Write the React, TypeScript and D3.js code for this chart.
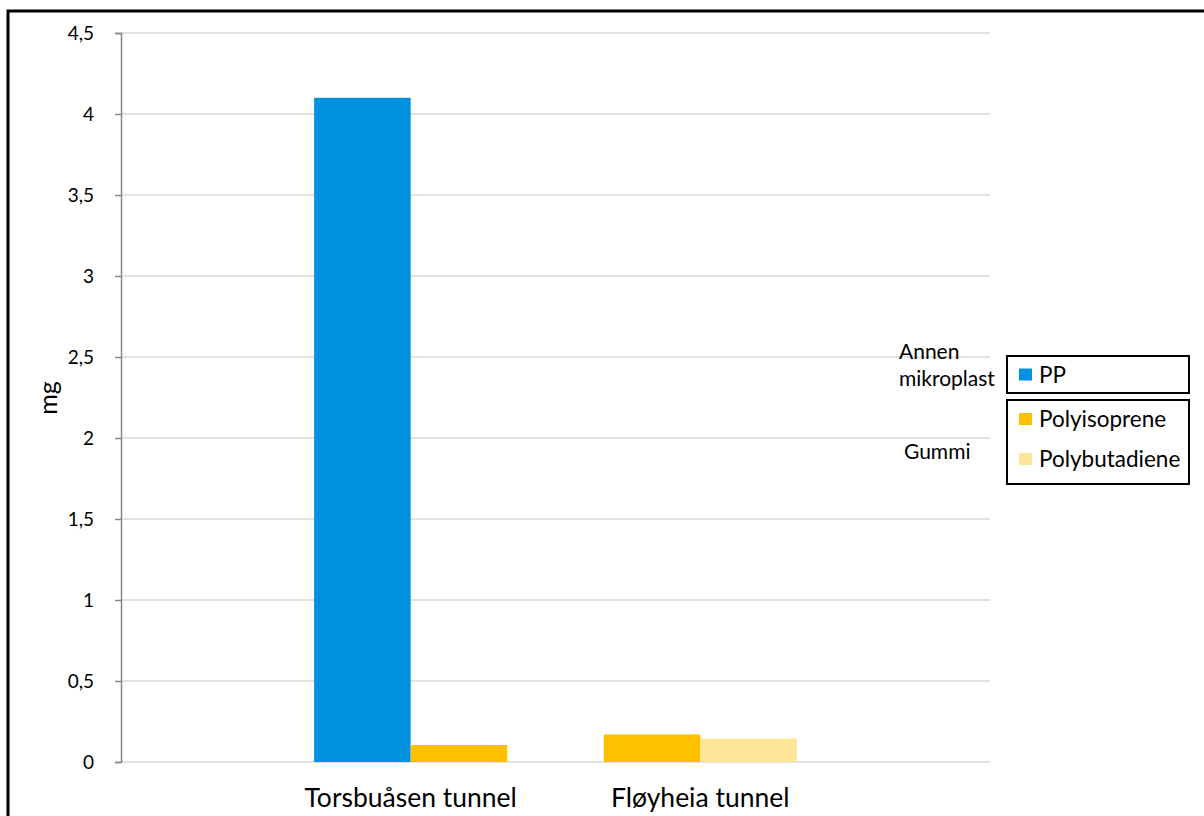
import React, { useEffect, useRef } from 'react';
import * as d3 from 'd3';

const categories = ['Torsbuåsen tunnel', 'Fløyheia tunnel'];
const seriesNames = ['PP', 'Polyisoprene', 'Polybutadiene'];
const seriesColors = ['#0091e1', '#ffc000', '#ffe599'];

// value per category per series (null = no bar)
const ppValues = [4.1, null];
const polyisopreneValues = [0.105, 0.17];
const polybutadieneValues = [null, 0.145];

const yTicks = [0, 0.5, 1, 1.5, 2, 2.5, 3, 3.5, 4, 4.5];

const legendGroups = [
  { title: ['Annen', 'mikroplast'], items: [0] },
  { title: ['Gummi'], items: [1, 2] },
];

const W = 1204;
const H = 816;
const FONT = 'Lato, "Open Sans", sans-serif';

const App: React.FC = () => {
  const svgRef = useRef<SVGSVGElement>(null);

  useEffect(() => {
    if (!svgRef.current) return;
    const svg = d3.select(svgRef.current).html('');

    const plot = { left: 121, right: 990, top: 33, bottom: 762 };

    // frame (top and left edges only)
    svg.append('path')
      .attr('d', `M8,${H} L8,11 L${W},11`)
      .attr('fill', 'none')
      .attr('stroke', '#000')
      .attr('stroke-width', 3);

    const y = d3.scaleLinear().domain([0, 4.5]).range([plot.bottom, plot.top]);
    const x = d3.scalePoint<string>().domain(categories).range([plot.left, plot.right]).padding(1);
    const barW = x.step() / 3;

    // gridlines
    svg.append('g')
      .selectAll('line')
      .data(yTicks)
      .join('line')
      .attr('x1', plot.left)
      .attr('x2', plot.right)
      .attr('y1', d => y(d))
      .attr('y2', d => y(d))
      .attr('stroke', '#d9d9d9')
      .attr('stroke-width', 1.5);

    // y axis
    const yAxis = d3.axisLeft(y)
      .tickValues(yTicks)
      .tickSize(6)
      .tickPadding(21)
      .tickFormat(d => String(d).replace('.', ','));
    const ya = svg.append('g')
      .attr('transform', `translate(${plot.left},0)`)
      .call(yAxis);
    ya.select('.domain').attr('stroke', '#868686').attr('stroke-width', 1.5);
    ya.selectAll('.tick line').attr('stroke', '#868686').attr('stroke-width', 1.5);
    ya.selectAll('.tick text')
      .attr('font-family', FONT)
      .attr('font-size', 19)
      .attr('fill', '#000');

    svg.append('text')
      .attr('transform', `translate(57,398) rotate(-90)`)
      .attr('text-anchor', 'middle')
      .attr('font-family', FONT)
      .attr('font-size', 25)
      .text('mg');

    // bars
    const allSeries = [ppValues, polyisopreneValues, polybutadieneValues];
    const bars: { cat: string; s: number; v: number; i: number; n: number }[] = [];
    categories.forEach((cat, ci) => {
      const present = allSeries
        .map((vals, s) => ({ s, v: vals[ci] }))
        .filter(d => d.v != null) as { s: number; v: number }[];
      present.forEach((d, i) => bars.push({ cat, s: d.s, v: d.v, i, n: present.length }));
    });

    svg.append('g')
      .selectAll('rect')
      .data(bars)
      .join('rect')
      .attr('x', d => (x(d.cat) as number) - (d.n * barW) / 2 + d.i * barW)
      .attr('y', d => y(d.v))
      .attr('width', barW)
      .attr('height', d => y(0) - y(d.v))
      .attr('fill', d => seriesColors[d.s]);

    // category labels
    svg.append('g')
      .selectAll('text')
      .data(categories)
      .join('text')
      .attr('x', d => x(d) as number)
      .attr('y', 807)
      .attr('text-anchor', 'middle')
      .attr('font-family', FONT)
      .attr('font-size', 26.5)
      .attr('fill', '#000')
      .text(d => d);

    // legend
    const lg = svg.append('g');
    const boxX = 1007;
    const boxW = 182;
    const rowH = 40;
    let top = 356;
    legendGroups.forEach((g, gi) => {
      const h = g.items.length === 1 ? 37 : 84;
      lg.append('rect')
        .attr('x', boxX)
        .attr('y', top)
        .attr('width', boxW)
        .attr('height', h)
        .attr('fill', 'none')
        .attr('stroke', '#000')
        .attr('stroke-width', 2);
      g.items.forEach((s, k) => {
        const cy = g.items.length === 1 ? top + h / 2 : top + 19 + k * rowH;
        lg.append('rect')
          .attr('x', 1019)
          .attr('y', cy - 6)
          .attr('width', 13)
          .attr('height', 12)
          .attr('fill', seriesColors[s]);
        lg.append('text')
          .attr('x', 1039)
          .attr('y', cy + 8)
          .attr('font-family', FONT)
          .attr('font-size', 22.5)
          .text(seriesNames[s]);
      });
      const titleX = gi === 0 ? 899 : 904;
      const titleY = gi === 0 ? 359 : 459;
      g.title.forEach((t, k) => {
        lg.append('text')
          .attr('x', titleX)
          .attr('y', titleY + k * 27)
          .attr('font-family', FONT)
          .attr('font-size', 21)
          .text(t);
      });
      top += h + 7;
    });
  }, []);

  return (
    <svg
      ref={svgRef}
      width={W}
      height={H}
      style={{ position: 'absolute', left: 0, top: 0, background: '#fff' }}
    />
  );
};

export default App;
